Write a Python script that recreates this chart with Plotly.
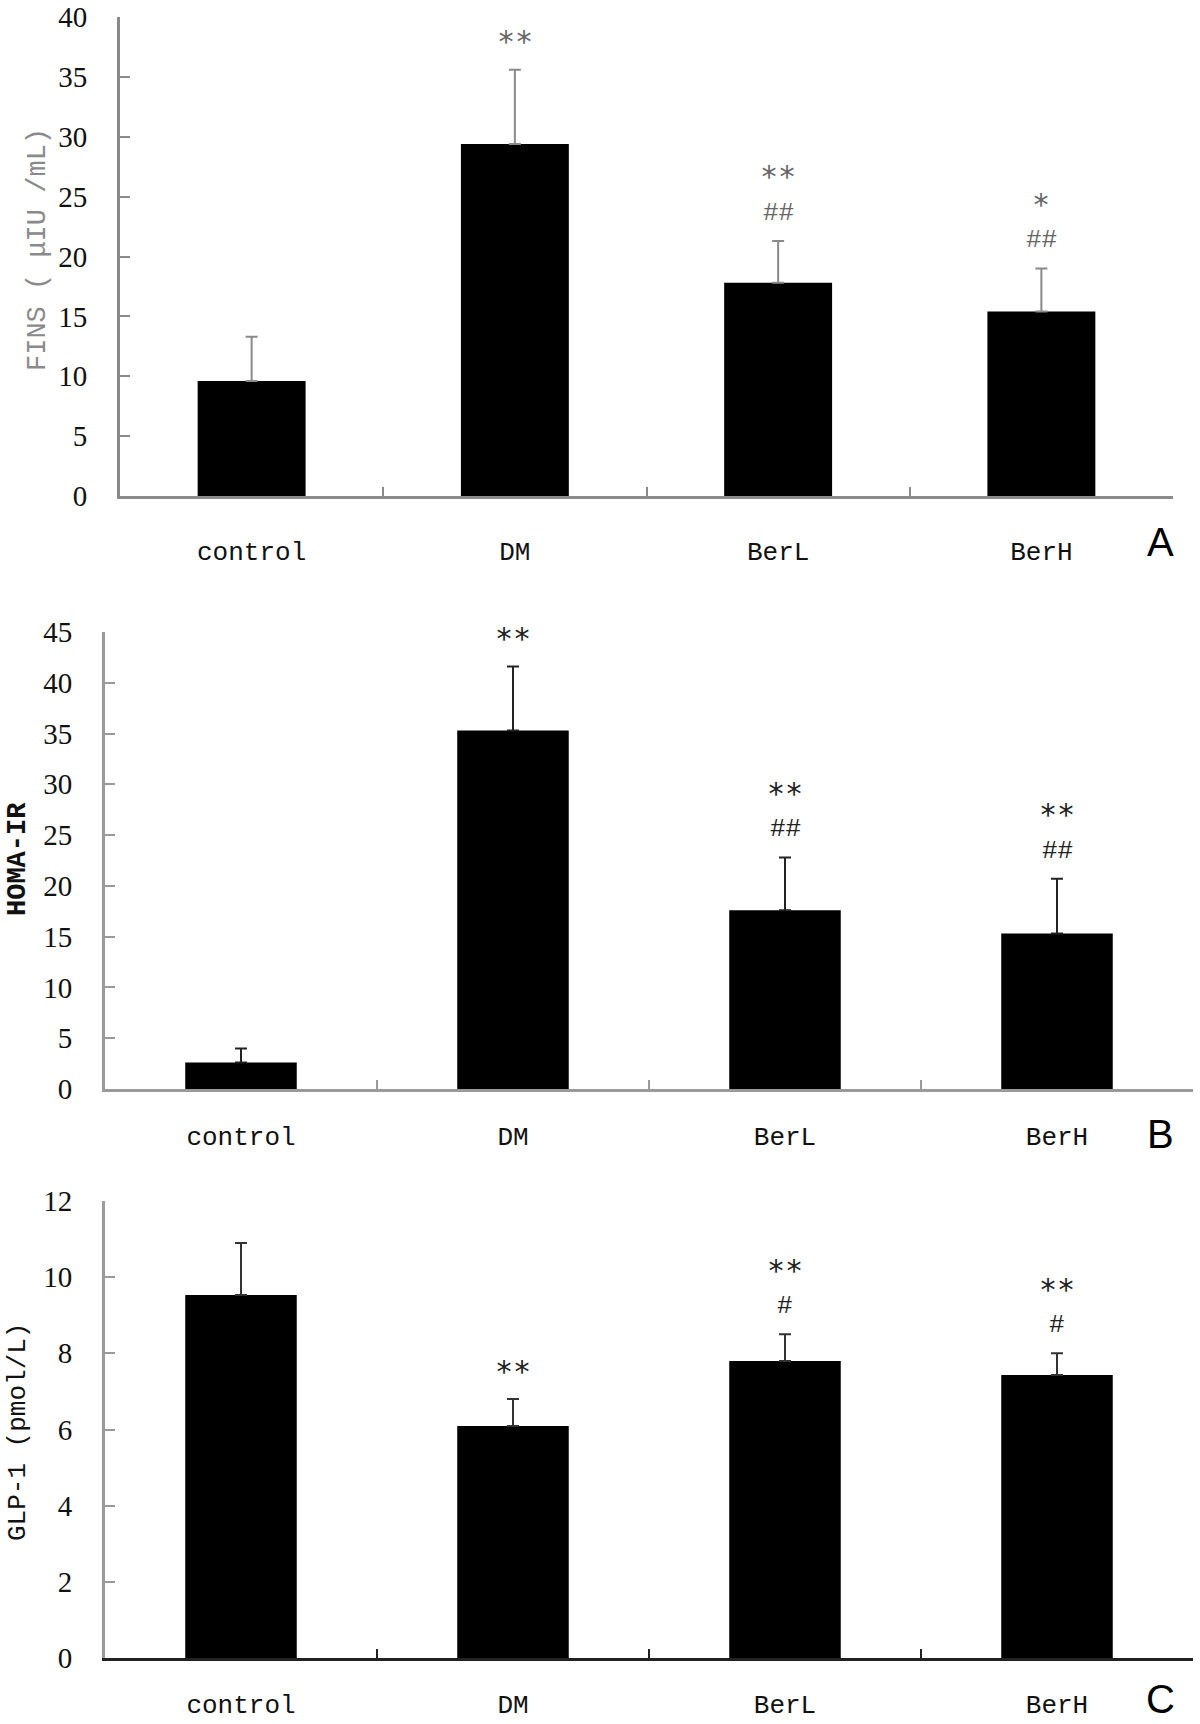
import plotly.graph_objects as go

categories = ["control", "DM", "BerL", "BerH"]

fins_mean = [9.6, 29.4, 17.8, 15.4]
fins_sd = [3.7, 6.2, 3.5, 3.6]
fins_star = ["", "**", "**", "*"]
fins_hash = ["", "", "##", "##"]

homa_mean = [2.6, 35.3, 17.6, 15.3]
homa_sd = [1.4, 6.3, 5.2, 5.4]
homa_star = ["", "**", "**", "**"]
homa_hash = ["", "", "##", "##"]

glp1_mean = [9.53, 6.09, 7.80, 7.43]
glp1_sd = [1.37, 0.71, 0.70, 0.57]
glp1_star = ["", "**", "**", "**"]
glp1_hash = ["", "", "#", "#"]

H = 1724.0
W = 1200.0

panels = [
    dict(mean=fins_mean, sd=fins_sd, star=fins_star, hash=fins_hash,
         xdom=[120 / W, 1173 / W], ydom=[1 - 496 / H, 1 - 17 / H],
         yrange=[0, 40], dtick=5, axcol="#8a8a8a", xaxcol="#8a8a8a", errcol="#8a8a8a",
         sigcol="#666666", title="FINS ( μIU /mL)", tcol="#8a8a8a", tsize=27,
         tx=38, ty=250, letter="A", ly=542, xstand=30),
    dict(mean=homa_mean, sd=homa_sd, star=homa_star, hash=homa_hash,
         xdom=[105 / W, 1193 / W], ydom=[1 - 1089 / H, 1 - 632 / H],
         yrange=[0, 45], dtick=5, axcol="#9a9a9a", xaxcol="#9a9a9a", errcol="#222222",
         sigcol="#222222", title="<b>HOMA-IR</b>", tcol="#111111", tsize=27,
         tx=18, ty=859, letter="B", ly=1134, xstand=22),
    dict(mean=glp1_mean, sd=glp1_sd, star=glp1_star, hash=glp1_hash,
         xdom=[105 / W, 1193 / W], ydom=[1 - 1658 / H, 1 - 1201 / H],
         yrange=[0, 12], dtick=2, axcol="#9a9a9a", xaxcol="#222222", errcol="#333333",
         sigcol="#222222", title="GLP-1 (pmol/L)", tcol="#111111", tsize=26,
         tx=18, ty=1432, letter="C", ly=1699, xstand=21),
]

fig = go.Figure()
annotations = []

for i, p in enumerate(panels):
    k = "" if i == 0 else str(i + 1)
    xa, ya = "x" + k, "y" + k
    fig.add_trace(go.Bar(
        x=categories, y=p["mean"], xaxis=xa, yaxis=ya,
        marker=dict(color="black", line=dict(width=0)),
        error_y=dict(type="data", array=p["sd"], arrayminus=[0] * 4, symmetric=False,
                     color=p["errcol"], thickness=2, width=6),
        showlegend=False,
    ))
    fig.update_layout(**{
        "xaxis" + k: dict(domain=p["xdom"], anchor=ya, type="category", automargin=False,
                          tickson="boundaries", ticks="inside", ticklen=9,
                          tickcolor=p["xaxcol"], tickwidth=2,
                          showline=True, linecolor=p["xaxcol"], linewidth=3,
                          showgrid=False, zeroline=False, ticklabeloverflow="allow",
                          tickfont=dict(family="Liberation Mono", size=26, color="#111111"),
                          ticklabelstandoff=p["xstand"]),
        "yaxis" + k: dict(domain=p["ydom"], anchor=xa, range=p["yrange"], dtick=p["dtick"],
                          automargin=False, ticklabeloverflow="allow",
                          ticks="inside", ticklen=10, tickcolor=p["axcol"], tickwidth=2,
                          showline=True, linecolor=p["axcol"], linewidth=3,
                          showgrid=False, zeroline=False,
                          tickfont=dict(family="Liberation Serif", size=29, color="#111111"),
                          ticklabelstandoff=24),
    })
    for j, c in enumerate(categories):
        top = p["mean"][j] + p["sd"][j]
        if p["hash"][j]:
            annotations.append(dict(x=c, y=top, xref=xa, yref=ya, text=p["hash"][j],
                                    showarrow=False, yanchor="middle", yshift=28,
                                    font=dict(family="Liberation Mono", size=26, color=p["sigcol"])))
            if p["star"][j]:
                annotations.append(dict(x=c, y=top, xref=xa, yref=ya, text=p["star"][j],
                                        showarrow=False, yanchor="middle", yshift=64,
                                        font=dict(family="DejaVu Sans Mono", size=30, color=p["sigcol"])))
        elif p["star"][j]:
            annotations.append(dict(x=c, y=top, xref=xa, yref=ya, text=p["star"][j],
                                    showarrow=False, yanchor="middle", yshift=28,
                                    font=dict(family="DejaVu Sans Mono", size=30, color=p["sigcol"])))
    annotations.append(dict(x=p["tx"] / W, y=1 - p["ty"] / H, xref="paper", yref="paper",
                            text=p["title"], textangle=-90, showarrow=False,
                            xanchor="center", yanchor="middle",
                            font=dict(family="Liberation Mono", size=p["tsize"], color=p["tcol"])))
    annotations.append(dict(x=1160 / W, y=1 - p["ly"] / H, xref="paper", yref="paper",
                            text=p["letter"], showarrow=False, xanchor="center", yanchor="middle",
                            font=dict(family="Liberation Sans", size=40, color="black")))

fig.update_layout(
    width=1200, height=1724,
    margin=dict(l=0, r=0, t=0, b=0, autoexpand=False),
    paper_bgcolor="white", plot_bgcolor="white",
    bargap=0.59,
    annotations=annotations,
)

fig.write_html("out.html", config={"displayModeBar": False},
               post_script="document.body.style.margin='0';document.body.style.overflow='hidden';")
